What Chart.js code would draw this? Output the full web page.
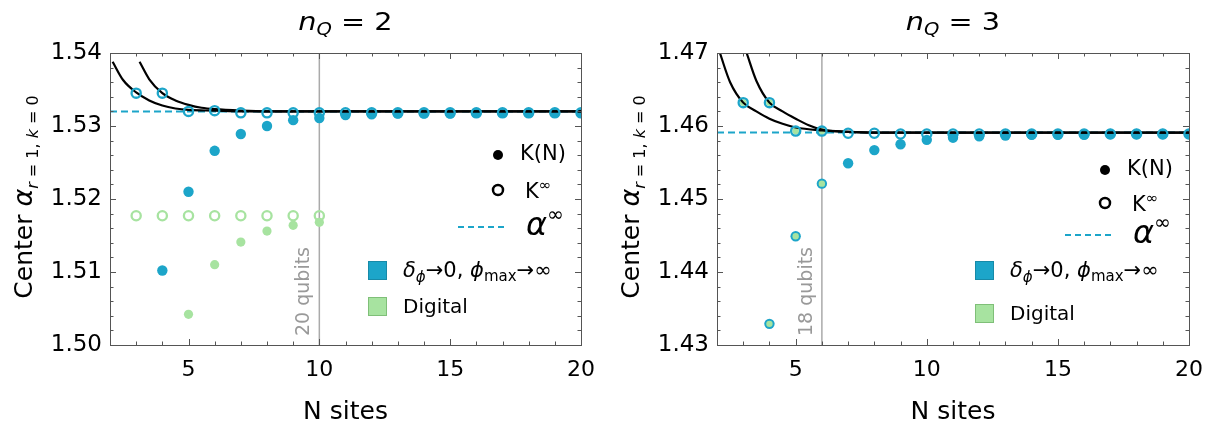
<!DOCTYPE html>
<html>
<head>
<meta charset="utf-8">
<script src="https://cdn.jsdelivr.net/npm/chart.js@4.4.1/dist/chart.umd.min.js"></script>
<style>
  html, body { margin: 0; padding: 0; background: #fff; }
  #wrap { position: relative; width: 1215px; height: 425px; }
  .panel { position: absolute; top: 0; height: 425px; }
</style>
</head>
<body>
<div id="wrap">
  <div class="panel" style="left:0;width:607px"><canvas id="chartQ2" width="607" height="425"></canvas></div>
  <div class="panel" style="left:607px;width:608px"><canvas id="chartQ3" width="608" height="425"></canvas></div>
</div>
<script>
// ---- data ----
const xTicks = [5, 10, 15, 20];
const yTicksQ2 = [1.50, 1.51, 1.52, 1.53, 1.54];
const yTicksQ3 = [1.43, 1.44, 1.45, 1.46, 1.47];

// n_Q = 2
const kInfSitesQ2 = [3, 4, 5, 6, 7, 8, 9, 10, 11, 12, 13, 14, 15, 16, 17, 18, 19, 20];
const kInfQ2 = [1.5345, 1.5345, 1.5320, 1.5321, 1.5318, 1.5318, 1.5318, 1.5318, 1.5318, 1.5318,
                1.5318, 1.5318, 1.5318, 1.5318, 1.5318, 1.5318, 1.5318, 1.5318];
const kNSitesQ2 = [4, 5, 6, 7, 8, 9, 10, 11, 12, 13, 14, 15, 16, 17, 18, 19, 20];
const kNQ2 = [1.5102, 1.5210, 1.5266, 1.5289, 1.5300, 1.5308, 1.5311, 1.5315, 1.5316, 1.5317,
              1.5317, 1.5317, 1.5318, 1.5318, 1.5318, 1.5318, 1.5318];
const digInfSitesQ2 = [3, 4, 5, 6, 7, 8, 9, 10];
const digInfQ2 = [1.5177, 1.5177, 1.5177, 1.5177, 1.5177, 1.5177, 1.5177, 1.5177];
const digNSitesQ2 = [5, 6, 7, 8, 9, 10];
const digNQ2 = [1.5042, 1.5110, 1.5141, 1.5156, 1.5164, 1.5168];
const fitAXQ2 = [2.1, 2.5, 3, 3.5, 4, 4.5, 5, 6, 7, 8, 20];
const fitAYQ2 = [1.5388, 1.5363, 1.5346, 1.5335, 1.5328, 1.5324, 1.5322, 1.5321, 1.5320, 1.5320, 1.5320];
const fitBXQ2 = [3.13, 3.5, 4, 4.5, 5, 5.5, 6, 7, 8, 9, 20];
const fitBYQ2 = [1.5388, 1.5364, 1.5345, 1.5335, 1.5329, 1.5325, 1.5323, 1.5321, 1.5320, 1.5320, 1.5320];
const alphaInfQ2 = 1.5320;
const qubitSitesQ2 = 10;

// n_Q = 3
const kInfSitesQ3 = [3, 4, 5, 6, 7, 8, 9, 10, 11, 12, 13, 14, 15, 16, 17, 18, 19, 20];
const kInfQ3 = [1.4632, 1.4632, 1.4593, 1.4593, 1.4590, 1.4590, 1.4589, 1.4589, 1.4589, 1.4589,
                1.4589, 1.4589, 1.4589, 1.4589, 1.4589, 1.4589, 1.4589, 1.4589];
const kNSitesQ3 = [4, 5, 6, 7, 8, 9, 10, 11, 12, 13, 14, 15, 16, 17, 18, 19, 20];
const kNQ3 = [1.4329, 1.4449, 1.4521, 1.4549, 1.4567, 1.4575, 1.4581, 1.4584, 1.4586, 1.4587,
              1.4588, 1.4588, 1.4588, 1.4589, 1.4589, 1.4589, 1.4589];
const digInfSitesQ3 = [3, 4, 5, 6];
const digInfQ3 = [1.4632, 1.4632, 1.4593, 1.4593];
const digNSitesQ3 = [4, 5, 6];
const digNQ3 = [1.4329, 1.4449, 1.4521];
const fitAXQ3 = [2.11, 2.5, 3, 3.5, 4, 4.5, 5, 6, 7, 8, 20];
const fitAYQ3 = [1.4700, 1.4660, 1.4632, 1.4620, 1.4610, 1.4603, 1.4598, 1.4594, 1.4592, 1.4591, 1.4591];
const fitBXQ3 = [3.13, 3.5, 4, 4.5, 5, 5.5, 6, 7, 8, 9, 20];
const fitBYQ3 = [1.4700, 1.4662, 1.4632, 1.4620, 1.4610, 1.4601, 1.4595, 1.4592, 1.4591, 1.4591, 1.4591];
const alphaInfQ3 = 1.4591;
const qubitSitesQ3 = 6;

// ---- styling ----
const FONT = '"DejaVu Sans", "Liberation Sans", Arial, sans-serif';
const BLUE = '#1ca5c9';
const GREEN = '#a7e3a0';
const X_MIN = 2, X_MAX = 20;

const pts = (xs, ys) => xs.map((x, i) => ({ x, y: ys[i] }));

// draws runs of text with different fonts; x = left, y = baseline
function richWidth(ctx, parts) {
  let w = 0;
  for (const p of parts) { ctx.font = p.font; w += ctx.measureText(p.t).width; }
  return w;
}
function drawRich(ctx, parts, x, y, sx = 1) {
  ctx.save();
  ctx.translate(x, y);
  ctx.scale(sx, 1);
  let cx = 0;
  for (const p of parts) {
    ctx.font = p.font;
    ctx.fillText(p.t, cx, p.dy || 0);
    cx += ctx.measureText(p.t).width;
  }
  ctx.restore();
}

const decorPlugin = {
  id: 'decor',
  beforeDatasetsDraw(chart) {
    const { ctx, chartArea: a } = chart;
    const o = chart.options.plugins.decor;
    const xs = chart.scales.x;
    // qubit label next to the vertical line
    ctx.save();
    ctx.fillStyle = '#999';
    ctx.font = '19px ' + FONT;
    ctx.textBaseline = 'alphabetic';
    ctx.textAlign = 'left';
    ctx.translate(xs.getPixelForValue(o.qubitX) - 10, a.bottom - 9);
    ctx.rotate(-Math.PI / 2);
    ctx.fillText(o.qubitText, 0, 0);
    ctx.restore();
  },
  afterDraw(chart) {
    const { ctx, chartArea: a } = chart;
    const o = chart.options.plugins.decor;
    const xs = chart.scales.x, ys = chart.scales.y;
    ctx.save();
    // frame
    ctx.strokeStyle = '#555';
    ctx.lineWidth = 1;
    ctx.strokeRect(Math.round(a.left) + 0.5, Math.round(a.top) + 0.5,
                   Math.round(a.right - a.left), Math.round(a.bottom - a.top));
    // inward ticks
    ctx.beginPath();
    for (let v = X_MIN; v <= X_MAX; v++) {
      const px = Math.round(xs.getPixelForValue(v)) + 0.5;
      const len = v % 5 === 0 ? 6 : 3.5;
      ctx.moveTo(px, a.bottom); ctx.lineTo(px, a.bottom - len);
      ctx.moveTo(px, a.top); ctx.lineTo(px, a.top + len);
    }
    const y0 = ys.min, y1 = ys.max;
    for (let k = 0; k <= Math.round((y1 - y0) / 0.002); k++) {
      const v = y0 + k * 0.002;
      const py = Math.round(ys.getPixelForValue(v)) + 0.5;
      const len = k % 5 === 0 ? 6 : 3.5;
      ctx.moveTo(a.left, py); ctx.lineTo(a.left + len, py);
      ctx.moveTo(a.right, py); ctx.lineTo(a.right - len, py);
    }
    ctx.stroke();

    ctx.fillStyle = '#000';
    ctx.textBaseline = 'alphabetic';
    const cx = (a.left + a.right) / 2;

    // title n_Q = ..
    const tParts = [
      { t: 'n', font: 'italic 25px ' + FONT },
      { t: 'Q', font: 'italic 17px ' + FONT, dy: 5 },
      { t: ' = ' + o.nQ, font: '25px ' + FONT }
    ];
    const tsx = 1.15;
    drawRich(ctx, tParts, cx - richWidth(ctx, tParts) * tsx / 2, 30, tsx);

    // x title
    ctx.font = '25px ' + FONT;
    ctx.textAlign = 'center';
    ctx.fillText('N sites', cx, 419);
    ctx.textAlign = 'left';

    // y title
    const yParts = [
      { t: 'Center ', font: '25px ' + FONT },
      { t: 'α', font: 'italic 27px ' + FONT },
      { t: 'r', font: 'italic 16px ' + FONT, dy: 6 },
      { t: ' = 1, ', font: '16px ' + FONT, dy: 6 },
      { t: 'k', font: 'italic 16px ' + FONT, dy: 6 },
      { t: ' = 0', font: '16px ' + FONT, dy: 6 }
    ];
    ctx.save();
    ctx.translate(32, 197);
    ctx.rotate(-Math.PI / 2);
    drawRich(ctx, yParts, -richWidth(ctx, yParts) / 2, 0);
    ctx.restore();

    // legend
    const L = o.legend;
    ctx.textBaseline = 'middle';
    ctx.fillStyle = '#000';
    ctx.beginPath(); ctx.arc(498, L.kN, 5, 0, Math.PI * 2); ctx.fill();
    ctx.font = '21px ' + FONT;
    ctx.fillText('K(N)', 520, L.kN);
    ctx.strokeStyle = '#000'; ctx.lineWidth = 2.5;
    ctx.beginPath(); ctx.arc(498, L.kInf, 5, 0, Math.PI * 2); ctx.stroke();
    ctx.textBaseline = 'alphabetic';
    drawRich(ctx, [
      { t: 'K', font: '21px ' + FONT },
      { t: '∞', font: '15px ' + FONT, dy: -8 }
    ], 525, L.kInf + 8);
    ctx.strokeStyle = BLUE; ctx.lineWidth = 2;
    ctx.setLineDash([6, 4]);
    ctx.beginPath(); ctx.moveTo(458, L.alpha); ctx.lineTo(508, L.alpha); ctx.stroke();
    ctx.setLineDash([]);
    drawRich(ctx, [
      { t: 'α', font: 'italic 32px ' + FONT },
      { t: '∞', font: '20px ' + FONT, dy: -14 }
    ], 526, L.alpha + 8);

    ctx.lineWidth = 1;
    ctx.fillStyle = BLUE; ctx.strokeStyle = '#178aa8';
    ctx.fillRect(368.5, L.blue - 8.5, 18, 18); ctx.strokeRect(368.5, L.blue - 8.5, 18, 18);
    ctx.fillStyle = GREEN; ctx.strokeStyle = '#7fbf78';
    ctx.fillRect(368.5, L.green - 8.5, 18, 18); ctx.strokeRect(368.5, L.green - 8.5, 18, 18);
    ctx.fillStyle = '#000';
    drawRich(ctx, [
      { t: 'δ', font: 'italic 21px ' + FONT },
      { t: 'ϕ', font: 'italic 15px ' + FONT, dy: 5 },
      { t: '→0, ', font: '21px ' + FONT },
      { t: 'ϕ', font: 'italic 21px ' + FONT },
      { t: 'max', font: '15px ' + FONT, dy: 4 },
      { t: '→∞', font: '21px ' + FONT }
    ], 403, L.blue + 7);
    ctx.font = '20px ' + FONT;
    ctx.fillText('Digital', 403, L.green + 7);
    ctx.restore();
  }
};

function makeChart(id, d) {
  const yMin = d.yTicks[0], yMax = d.yTicks[d.yTicks.length - 1];
  return new Chart(document.getElementById(id), {
    type: 'scatter',
    data: {
      datasets: [
        { label: 'K∞', data: pts(d.kInfX, d.kInf), order: 1,
          pointRadius: 4.6, pointBorderWidth: 2.3, pointBorderColor: BLUE,
          pointBackgroundColor: 'rgba(0,0,0,0)', showLine: false },
        { label: 'fit a', data: pts(d.fitAX, d.fitAY), order: 2, showLine: true,
          borderColor: '#000', borderWidth: 2.2, pointRadius: 0, cubicInterpolationMode: 'monotone' },
        { label: 'fit b', data: pts(d.fitBX, d.fitBY), order: 2, showLine: true,
          borderColor: '#000', borderWidth: 2.2, pointRadius: 0, cubicInterpolationMode: 'monotone' },
        { label: 'digital ∞', data: pts(d.digInfX, d.digInf), order: 3,
          pointRadius: d.digInfR, pointBorderWidth: d.digInfBW, pointBorderColor: GREEN,
          pointBackgroundColor: d.digInfFill, showLine: false },
        { label: 'digital N', data: pts(d.digNX, d.digN), order: 4,
          pointRadius: d.digNR, pointBorderWidth: 0, pointBackgroundColor: GREEN, showLine: false },
        { label: 'K(N)', data: pts(d.kNX, d.kN), order: 5,
          pointRadius: 5.2, pointBorderWidth: 0, pointBackgroundColor: BLUE, showLine: false },
        { label: 'alpha inf', data: pts([X_MIN, X_MAX], [d.alphaInf, d.alphaInf]), order: 6,
          showLine: true, borderColor: BLUE, borderWidth: 2, borderDash: [7, 4], pointRadius: 0 },
        { label: 'qubits', data: pts([d.qubitX, d.qubitX], [yMin, yMax]), order: 7,
          showLine: true, borderColor: '#aaa', borderWidth: 1.5, pointRadius: 0 }
      ]
    },
    options: {
      responsive: false,
      animation: false,
      events: [],
      layout: { padding: { left: 0, right: d.padRight, top: 53, bottom: 0 } },
      plugins: {
        legend: { display: false },
        tooltip: { enabled: false },
        decor: { nQ: d.nQ, qubitX: d.qubitX, qubitText: d.qubitText, legend: d.legend }
      },
      scales: {
        x: {
          type: 'linear', min: X_MIN, max: X_MAX,
          grid: { display: false, drawTicks: false }, border: { display: false },
          afterBuildTicks: s => { s.ticks = xTicks.map(v => ({ value: v })); },
          afterFit: s => { s.height = 80; },
          ticks: { color: '#000', font: { family: FONT, size: 22 }, padding: 12, maxRotation: 0 }
        },
        y: {
          type: 'linear', min: yMin, max: yMax,
          grid: { display: false, drawTicks: false }, border: { display: false },
          afterBuildTicks: s => { s.ticks = d.yTicks.map(v => ({ value: v })); },
          afterFit: s => { s.width = 110; },
          ticks: { color: '#000', font: { family: FONT, size: 23 }, padding: 8,
                   callback: v => Number(v).toFixed(2) }
        }
      }
    },
    plugins: [decorPlugin]
  });
}

makeChart('chartQ2', {
  nQ: 2, yTicks: yTicksQ2, padRight: 22,
  kInfX: kInfSitesQ2, kInf: kInfQ2, kNX: kNSitesQ2, kN: kNQ2,
  digInfX: digInfSitesQ2, digInf: digInfQ2, digNX: digNSitesQ2, digN: digNQ2,
  digInfR: 4.6, digInfBW: 2.3, digInfFill: 'rgba(0,0,0,0)', digNR: 4.6,
  fitAX: fitAXQ2, fitAY: fitAYQ2, fitBX: fitBXQ2, fitBY: fitBYQ2,
  alphaInf: alphaInfQ2, qubitX: qubitSitesQ2, qubitText: '20 qubits',
  legend: { kN: 155, kInf: 190, alpha: 227, blue: 270, green: 306 }
});
makeChart('chartQ3', {
  nQ: 3, yTicks: yTicksQ3, padRight: 25,
  kInfX: kInfSitesQ3, kInf: kInfQ3, kNX: kNSitesQ3, kN: kNQ3,
  digInfX: digInfSitesQ3, digInf: digInfQ3, digNX: digNSitesQ3, digN: digNQ3,
  digInfR: 2.2, digInfBW: 2.2, digInfFill: GREEN, digNR: 3.2,
  fitAX: fitAXQ3, fitAY: fitAYQ3, fitBX: fitBXQ3, fitBY: fitBYQ3,
  alphaInf: alphaInfQ3, qubitX: qubitSitesQ3, qubitText: '18 qubits',
  legend: { kN: 170, kInf: 203, alpha: 235, blue: 270, green: 313 }
});
</script>
</body>
</html>
